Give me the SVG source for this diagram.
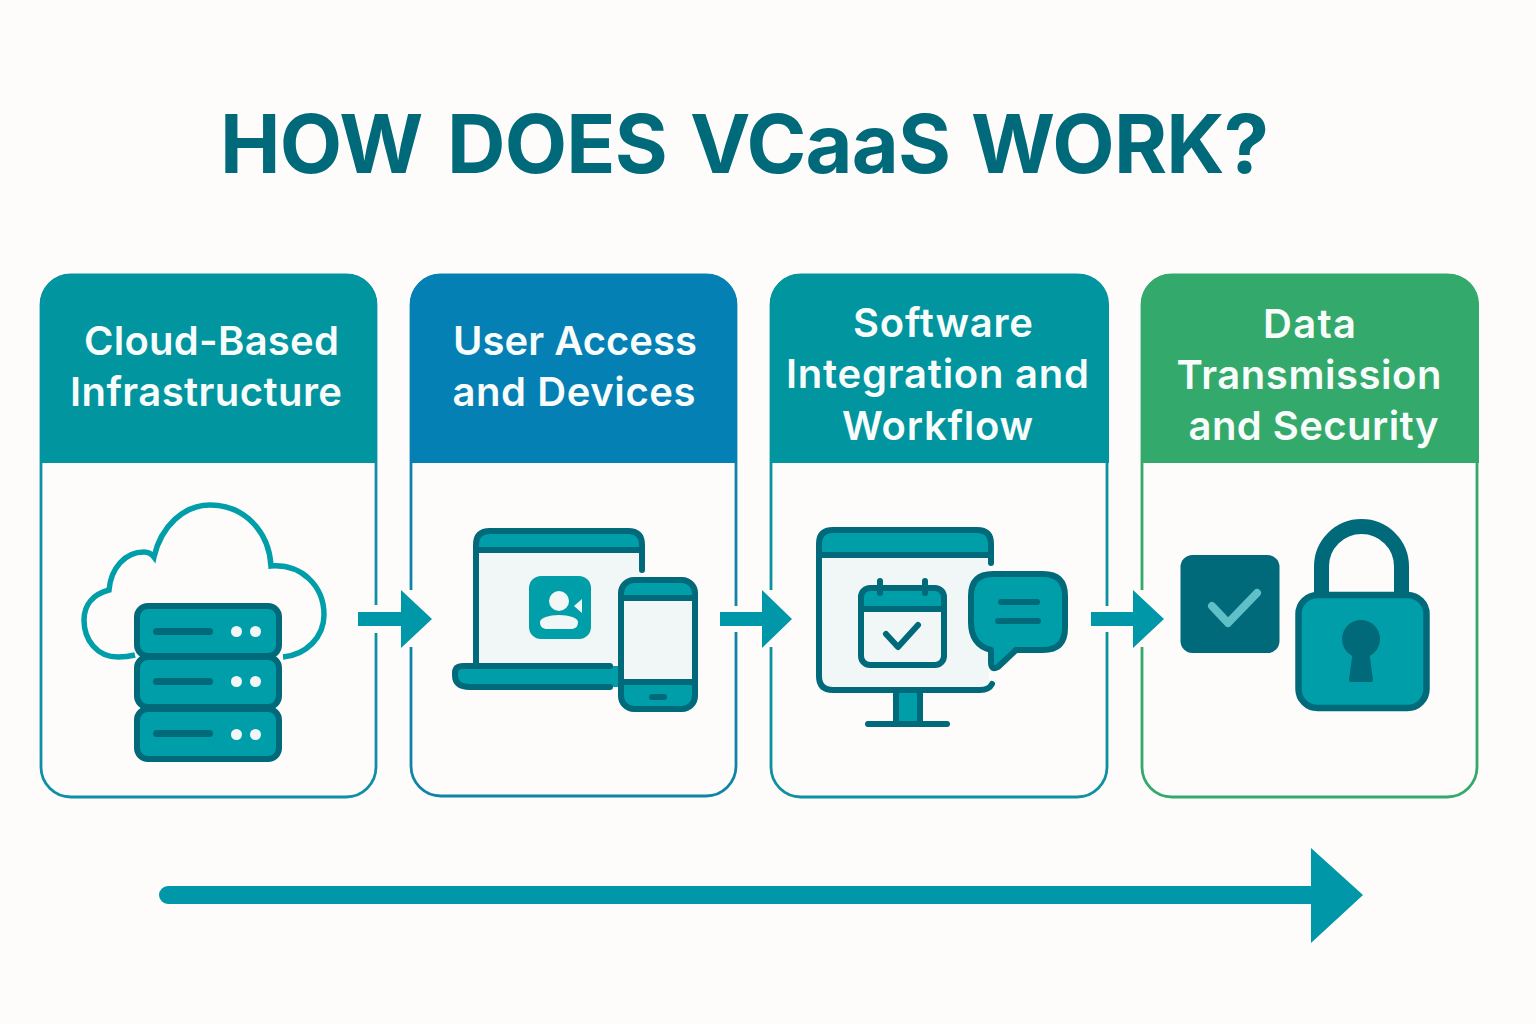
<svg xmlns="http://www.w3.org/2000/svg" width="1536" height="1024" viewBox="0 0 1536 1024">
<style>
.bg{fill:#fdfcfa}
.t{fill:#009ea8}
.a{fill:#0097a9}
.d{fill:#00697a}
.s{fill:#f0f7f6}
.o{stroke:#00697a;stroke-width:6;stroke-linecap:round;stroke-linejoin:round;fill:none}
.card{fill:#fdfcfa;stroke-width:2.800}
.h{font-family:"Inter","Liberation Sans",sans-serif;font-weight:600;font-size:40px;fill:#f8fcfb}
.title{font-family:"Inter","Liberation Sans",sans-serif;font-weight:650;font-size:81px;letter-spacing:-0.8px;fill:#00697a}
</style>
<rect class="bg" width="1536" height="1024"/>
<text class="title" y="173"><tspan x="220">HOW </tspan><tspan x="447">DOES </tspan><tspan x="690">VCaaS </tspan><tspan x="971">WORK?</tspan></text>

<g id="card1">
<rect class="card" x="41" y="275" width="335" height="522" rx="30" stroke="#0f8ea6"/>
<path d="M40 463V304a30 30 0 0 1 30-30H347a30 30 0 0 1 30 30V463Z" fill="#00959f"/>
<text class="h" x="84" y="355" textLength="255">Cloud-Based</text>
<text class="h" x="70" y="406" textLength="272">Infrastructure</text>
<path d="M135 655C131 656 126 657 118 657C97 657 84 640 84 620C84 604 94 594 109 590C111 568 125 552 144 552C148 552 151 553 154 557C161 526 184 505 210 505C244 505 269 531 271 566C302 564 324 586 324 615C324 637 306 655 283 657" fill="none" stroke="#009ea8" stroke-width="5.500"/>
<g>
<rect class="t" x="137" y="606" width="142" height="50" rx="11" stroke="#00697a" stroke-width="6"/>
<rect class="t" x="137" y="657" width="142" height="50" rx="11" stroke="#00697a" stroke-width="6"/>
<rect class="t" x="137" y="709" width="142" height="50" rx="11" stroke="#00697a" stroke-width="6"/>
<rect class="d" x="153" y="628" width="60" height="7" rx="3.500"/>
<rect class="d" x="153" y="678" width="60" height="7" rx="3.500"/>
<rect class="d" x="153" y="730" width="60" height="7" rx="3.500"/>
<circle class="s" cx="236.500" cy="631.500" r="5.500"/><circle class="s" cx="255.500" cy="631.500" r="5.500"/>
<circle class="s" cx="236.500" cy="681.500" r="5.500"/><circle class="s" cx="255.500" cy="681.500" r="5.500"/>
<circle class="s" cx="236.500" cy="734.500" r="5.500"/><circle class="s" cx="255.500" cy="734.500" r="5.500"/>
</g>
</g>

<g id="card2">
<rect class="card" x="411" y="275" width="325" height="521" rx="30" stroke="#0f84a8"/>
<path d="M410 463V304a30 30 0 0 1 30-30H707a30 30 0 0 1 30 30V463Z" fill="#0480b4"/>
<text class="h" x="453" y="355" textLength="244">User Access</text>
<text class="h" x="452.500" y="406" textLength="243">and Devices</text>
<path class="s" d="M476 550H642V663H476Z"/>
<path class="t" d="M476 549V545Q476 531 490 531H628Q642 531 642 545V549Z"/>
<path class="o" d="M476 663V545Q476 531 490 531H628Q642 531 642 545V570M476 550H642"/>
<path class="t" d="M455 666H618V687H470Q455 687 455 675Z"/>
<path class="o" d="M610 666H463Q455 666 455 673V675Q455 687 470 687H610"/>
<rect class="t" x="529" y="576" width="62" height="63" rx="12"/>
<circle class="s" cx="559" cy="601" r="10"/>
<path class="s" d="M540 622C540 618 549 615 559 615C569 615 578 618 578 622C578 627 575 629 571 629H547C543 629 540 627 540 622Z"/>
<path class="s" d="M574 606L582 599V613Z"/>
<rect class="s" x="621" y="580" width="74" height="129" rx="13"/>
<path class="t" d="M621 598V593Q621 580 634 580H682Q695 580 695 593V598Z"/>
<path class="t" d="M621 682H695V696Q695 709 682 709H634Q621 709 621 696Z"/>
<rect x="621" y="580" width="74" height="129" rx="13" class="o"/>
<path class="o" d="M621 598H695M621 682H695"/>
<rect class="d" x="649" y="694" width="18" height="6" rx="3"/>
</g>

<g id="card3">
<rect class="card" x="771" y="275" width="336" height="522" rx="30" stroke="#0d90a0"/>
<path d="M770 463V304a30 30 0 0 1 30-30H1079a30 30 0 0 1 30 30V463Z" fill="#00959f"/>
<text class="h" x="853" y="337" textLength="180">Software</text>
<text class="h" x="786" y="388" textLength="303">Integration and</text>
<text class="h" x="842" y="440" textLength="191">Workflow</text>
<path class="s" d="M819 555H989V690H819Z"/>
<path class="t" d="M819 555V544Q819 530 833 530H977Q991 530 991 544V555Z"/>
<rect class="t" x="896" y="690" width="24" height="32"/>
<path class="o" d="M992 684C990 688 986 690 980 690H833Q819 690 819 676V544Q819 530 833 530H977Q991 530 991 544V563M819 555H991M896 693V721M920 693V721M868 724H947"/>
<rect class="s" x="861" y="588" width="83" height="77" rx="9"/>
<path class="t" d="M861 609V597Q861 588 870 588H935Q944 588 944 597V609Z"/>
<rect class="o" x="861" y="588" width="83" height="77" rx="9"/>
<path class="o" d="M861 609H944M880 581V593M925 581V593M886 634L898 647L918 625"/>
<path class="t" d="M993 574H1043Q1065 574 1065 596V628Q1065 650 1043 650H1016L998 667Q991 671 991 662V650Q971 645 971 622V596Q971 574 993 574Z"/>
<path class="o" d="M993 574H1043Q1065 574 1065 596V628Q1065 650 1043 650H1016L998 667Q991 671 991 662V650Q971 645 971 622V596Q971 574 993 574Z"/>
<path class="o" d="M1001 602H1037M998 621H1038"/>
</g>

<g id="card4">
<rect class="card" x="1142" y="275" width="335" height="522" rx="30" stroke="#34a96c"/>
<path d="M1141 463V304a30 30 0 0 1 30-30H1449a30 30 0 0 1 30 30V463Z" fill="#34a96c"/>
<text class="h" x="1263" y="338" textLength="93">Data</text>
<text class="h" x="1176.500" y="389" textLength="265">Transmission</text>
<text class="h" x="1188.500" y="440" textLength="250">and Security</text>
<rect class="d" x="1180.500" y="555" width="99" height="98" rx="12"/>
<path d="M1212 606L1228 623L1257 593" fill="none" stroke="#5fc0c7" stroke-width="8" stroke-linecap="round" stroke-linejoin="round"/>
<path d="M1321.500 596V566.500a40 40 0 0 1 80 0V596" fill="none" stroke="#00697a" stroke-width="15"/>
<rect class="t" x="1298.500" y="595" width="128" height="113" rx="19" stroke="#00697a" stroke-width="6.500"/>
<circle class="d" cx="1361" cy="639" r="19"/>
<path class="d" d="M1353 650H1369L1373 680Q1373 682 1371 682H1351Q1349 682 1349 680Z"/>
</g>

<g id="connectors">
<rect class="bg" x="372" y="605" width="8" height="28"/>
<rect class="bg" x="407" y="590" width="8" height="57"/>
<rect class="bg" x="732" y="606" width="8" height="26"/>
<rect class="bg" x="766" y="590" width="8" height="57"/>
<rect class="bg" x="1103" y="606" width="8" height="26"/>
<rect class="bg" x="1137" y="590" width="8" height="57"/>
<path class="a" d="M358 612H401V590L432 619L401 648V626H358Z"/>
<path class="a" d="M720 612H762V590L792 619L762 648V626H720Z"/>
<path class="a" d="M1091 612H1133V590L1164 619L1133 648V626H1091Z"/>
<path class="a" d="M168 886H1311V848L1363 895L1311 943V904H168A9 9 0 0 1 168 886Z"/>
</g>
</svg>
